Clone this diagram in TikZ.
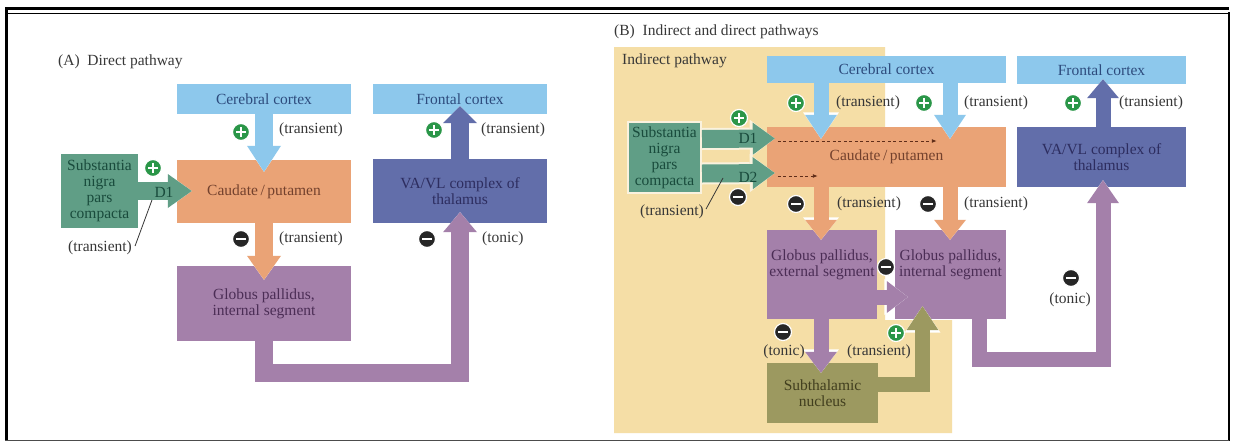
\documentclass[tikz,border=0pt]{standalone}
\usepackage{fontspec}
\setmainfont{Liberation Serif}
\usetikzlibrary{arrows.meta,calc}

\definecolor{cortexblue}{RGB}{141,200,236}
\definecolor{caudorange}{RGB}{234,163,118}
\definecolor{gppurple}{RGB}{164,128,170}
\definecolor{thalblue}{RGB}{98,110,170}
\definecolor{nigragreen}{RGB}{96,158,134}
\definecolor{stnolive}{RGB}{156,153,96}
\definecolor{indirectbg}{RGB}{245,222,166}
\definecolor{snedge}{RGB}{250,242,222}
\definecolor{plusgreen}{RGB}{42,150,72}
\definecolor{labelgray}{RGB}{55,55,55}
\definecolor{cortextext}{RGB}{45,75,125}
\definecolor{caudtext}{RGB}{115,65,45}
\definecolor{gptext}{RGB}{75,45,85}
\definecolor{thaltext}{RGB}{45,45,95}
\definecolor{nigratext}{RGB}{25,75,60}
\definecolor{stntext}{RGB}{65,62,30}
\definecolor{dashbrown}{RGB}{95,45,25}

\tikzset{
  every node/.style={font=\fontsize{15.5}{16}\selectfont},
  box/.style={inner sep=0pt, align=center},
  lbl/.style={text=labelgray, inner sep=0pt},
  sgn/.style={circle, minimum size=17pt, inner sep=0pt, draw=white, line width=1.2pt},
  excite/.style={sgn, fill=plusgreen, path picture={
      \draw[white, line width=2.5pt]
        ([xshift=-4.8pt]path picture bounding box.center) -- ([xshift=4.8pt]path picture bounding box.center)
        ([yshift=-4.8pt]path picture bounding box.center) -- ([yshift=4.8pt]path picture bounding box.center);}},
  inhib/.style={sgn, fill=black!85, path picture={
      \draw[white, line width=2.7pt]
        ([xshift=-4.8pt]path picture bounding box.center) -- ([xshift=4.8pt]path picture bounding box.center);}},
  flowA/.style={line width=18pt, line join=miter,
      -{Triangle[width=34pt,length=#1,line width=0pt]},
      preaction={draw=white, line width=18pt, line join=miter,
      -{Triangle[width=38pt,length=#1+2.5pt,line width=0pt]}}},
  flowA/.default=24pt,
  flowB/.style={line width=15pt, line join=miter,
      -{Triangle[width=32pt,length=#1,line width=0pt]},
      preaction={draw=white, line width=15pt, line join=miter,
      -{Triangle[width=36pt,length=#1+2.5pt,line width=0pt]}}},
  flowB/.default=22pt,
  flowSN/.style={line width=18pt, nigragreen,
      -{Triangle[width=32pt,length=22pt,line width=0pt]},
      preaction={draw=snedge, line width=22pt,
      -{Triangle[width=38pt,length=25pt,line width=0pt]}}},
  dashA/.style={dashbrown, line width=0.9pt, dash pattern=on 3pt off 2.5pt,
      -{Latex[length=5pt,width=4pt]}}
}

\begin{document}
\begin{tikzpicture}[x=1pt,y=-1pt]
  \fill[white] (0,0) rectangle (1233,442);
  \useasboundingbox (0,0) rectangle (1233,442);

  % frame
  \draw[line width=3pt] (5,8.5) -- (1229,8.5);
  \draw[line width=1pt] (6,13) -- (1229,13);
  \draw[line width=3pt] (6.5,7) -- (6.5,441);
  \draw[line width=2pt] (1228.5,12) -- (1228.5,441);
  \draw[black!70, line width=1pt] (5,440.5) -- (1229,440.5);

  % (A) direct pathway
  \node[lbl, anchor=west] (titleA) at (58,62) {(A)\enspace Direct pathway};
  \node[box, fill=cortexblue, text=cortextext, minimum width=174pt, minimum height=30pt] (ccA) at (264,99) {Cerebral cortex};
  \node[box, fill=cortexblue, text=cortextext, minimum width=174pt, minimum height=30pt] (fcA) at (460,99) {Frontal cortex};
  \node[box, fill=caudorange, text=caudtext, minimum width=174pt, minimum height=63pt] (cpA) at (264,191.5) {Caudate\,/\,putamen};
  \node[box, fill=thalblue, text=thaltext, minimum width=174pt, minimum height=64pt] (vaA) at (460,191) {VA/VL complex of\\thalamus};
  \node[box, fill=gppurple, text=gptext, minimum width=174pt, minimum height=75pt] (gpiA) at (264,303.5) {Globus pallidus,\\internal segment};
  \node[box, fill=nigragreen, text=nigratext, minimum width=77pt, minimum height=74pt] (snA) at (99.5,191) {Substantia\\nigra\\pars\\compacta};

  \draw[flowA=26pt, cortexblue] (ccA.south) -- ($(cpA.north)+(0,12)$);
  \draw[flowA, caudorange] (cpA.south) -- ($(gpiA.north)+(0,14)$);
  \draw[flowA, nigragreen] (snA.east) -- ($(snA.east -| cpA.west)+(15,0)$);
  \draw[flowA=20pt, gppurple] (gpiA.south) -- ++(0,31.5) -| ($(vaA.south)+(0,-11)$);
  \draw[flowA=17pt, thalblue] (vaA.north) -- ($(fcA.south)+(0,-8)$);

  \node[excite] (pA1) at (241,132) {};
  \node[inhib] (mA1) at (241,239) {};
  \node[excite] (pA2) at (153,168) {};
  \node[excite] (pA3) at (434,130) {};
  \node[inhib] (mA2) at (427,239) {};

  \node[lbl, anchor=west] (tA1) at (279,130) {(transient)};
  \node[lbl, anchor=west] (tA2) at (279,239) {(transient)};
  \node[lbl] (tA3) at (100,248) {(transient)};
  \node[lbl, anchor=west] (tA4) at (481,130) {(transient)};
  \node[lbl, anchor=west] (tA5) at (482,239) {(tonic)};
  \node[lbl, text=nigratext] (d1A) at (164,192) {D1};
  \coordinate (lnA) at (152,200);
  \draw[labelgray, line width=0.8pt] ($(tA3.east)+(3,-2)$) -- (lnA);

  % (B) indirect and direct pathways
  \node[lbl, anchor=west] (titleB) at (614,32) {(B)\enspace Indirect and direct pathways};
  \fill[indirectbg] (614,47) -- (885,47) -- (885,320) -- (952,320) -- (952,433) -- (614,433) -- cycle;
  \node[lbl, anchor=west] (indB) at (622,61) {Indirect pathway};

  \node[box, fill=cortexblue, text=cortextext, minimum width=239pt, minimum height=27pt] (ccB) at (886.5,69.5) {Cerebral cortex};
  \node[box, fill=cortexblue, text=cortextext, minimum width=169pt, minimum height=28pt] (fcB) at (1101.5,70) {Frontal cortex};
  \node[box, fill=caudorange, text=caudtext, minimum width=239pt, minimum height=60pt] (cpB) at (886.5,157) {Caudate\,/\,putamen};
  \node[box, fill=thalblue, text=thaltext, minimum width=169pt, minimum height=60pt] (vaB) at (1101.5,157) {VA/VL complex of\\thalamus};
  \node[box, fill=nigragreen, text=nigratext, draw=snedge, line width=2pt, minimum width=73pt, minimum height=71pt] (snB) at (664.5,157.5) {Substantia\\nigra\\pars\\compacta};
  \node[box, fill=gppurple, minimum width=110pt, minimum height=89pt] (gpeB) at (822,274.5) {};
  \node[box, text=gptext] (gpeT) at (822,265) {Globus pallidus,\\external segment};
  \node[box, fill=gppurple, minimum width=111pt, minimum height=89pt] (gpiB) at (950.5,274.5) {};
  \node[box, text=gptext] (gpiT) at (950.5,265) {Globus pallidus,\\internal segment};
  \node[box, fill=stnolive, text=stntext, minimum width=111pt, minimum height=60pt] (stnB) at (822.5,393) {Subthalamic\\nucleus};

  \draw[flowSN] ($(snB.east)+(0,-18.5)$) -- ($(cpB.west)+(8,-18.5)$);
  \draw[flowSN] ($(snB.east)+(0,16)$) -- ($(cpB.west)+(8,16)$);
  \draw[flowB=24pt, cortexblue] ($(ccB.south)+(-65.5,0)$) -- ($(cpB.north)+(-65.5,12)$);
  \draw[flowB=24pt, cortexblue] ($(ccB.south)+(63.5,0)$) -- ($(cpB.north)+(63.5,12)$);
  \draw[flowB=20pt, caudorange] ($(cpB.south)+(-65.5,0)$) -- ($(gpeB.north)+(-1,10)$);
  \draw[flowB=20pt, caudorange] ($(cpB.south)+(63.5,0)$) -- ($(gpiB.north)+(-0.5,10)$);
  \draw[flowB=21pt, gppurple] ($(gpeB.east)+(0,22.5)$) -- ($(gpiB.west)+(13,22.5)$);
  \draw[flowB=21pt, gppurple] ($(gpeB.south)+(-1,0)$) -- ($(stnB.north)+(-1.5,10)$);
  \draw[flowB=24pt, stnolive] ($(stnB.east)+(0,-8.5)$) -| ($(gpiB.south)+(-28,-13)$);
  \draw[flowB=23pt, gppurple] ($(gpiB.south)+(29,0)$) -- ++(0,40) -| ($(vaB.south)+(1.5,-7)$);
  \draw[flowB=19pt, thalblue] ($(vaB.north)+(1.5,0)$) -- ($(fcB.south)+(1.5,-5)$);
  \draw[dashA] ($(cpB.west)+(11,-16)$) -- ($(cpB.west)+(170,-16)$);
  \draw[dashA] ($(cpB.west)+(11,19)$) -- ($(cpB.west)+(51,19)$);

  \node[excite] (pB1) at (739,118) {};
  \node[inhib] (mB1) at (738,197) {};
  \node[excite] (pB2) at (796,103) {};
  \node[excite] (pB3) at (924,103) {};
  \node[excite] (pB4) at (1073,103) {};
  \node[inhib] (mB2) at (796,204) {};
  \node[inhib] (mB3) at (928,204) {};
  \node[inhib] (mB4) at (886,267) {};
  \node[inhib] (mB5) at (783,332) {};
  \node[excite] (pB5) at (896,333) {};
  \node[inhib] (mB6) at (1071,278) {};

  \node[lbl, text=nigratext] (d1B) at (748,138) {D1};
  \node[lbl, text=nigratext] (d2B) at (748,177) {D2};
  \node[lbl] (tB1) at (672,212) {(transient)};
  \coordinate (lnB) at (723,178);
  \draw[labelgray, line width=0.8pt] ($(tB1.east)+(2,-3)$) -- (lnB);
  \node[lbl, anchor=west] (tB2) at (836,103) {(transient)};
  \node[lbl, anchor=west] (tB3) at (964,103) {(transient)};
  \node[lbl, anchor=west] (tB4) at (1119,103) {(transient)};
  \node[lbl, anchor=west] (tB5) at (837,204) {(transient)};
  \node[lbl, anchor=west] (tB6) at (964,204) {(transient)};
  \node[lbl] (tB7) at (784,352) {(tonic)};
  \node[lbl] (tB8) at (879,352) {(transient)};
  \node[lbl] (tB9) at (1070,300) {(tonic)};
\end{tikzpicture}
\end{document}
